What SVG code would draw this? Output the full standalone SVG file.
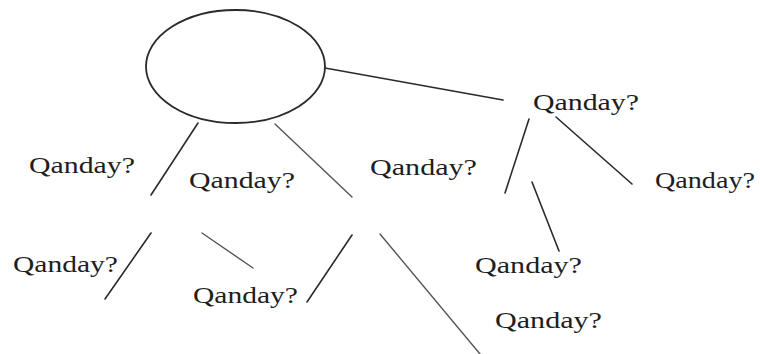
<svg xmlns="http://www.w3.org/2000/svg" width="760" height="354" viewBox="0 0 760 354">
<style>
.lbl{font-family:"Liberation Serif","Times New Roman",serif;font-size:23px;fill:#1e1e1e}
.ln{stroke:#2a2a2a;stroke-width:1.6;fill:none;stroke-linecap:round}
.lt{stroke:#555;stroke-width:1.4;fill:none;stroke-linecap:round}
</style>
<rect width="760" height="354" fill="#ffffff"/>
<g id="connectors">
<line class="ln" x1="325" y1="68" x2="503" y2="100"/>
<line class="ln" x1="198" y1="123" x2="151" y2="195"/>
<line class="lt" x1="275" y1="124" x2="352" y2="197"/>
<line class="ln" x1="529" y1="119" x2="505" y2="193"/>
<line class="ln" x1="556" y1="117" x2="632" y2="184"/>
<line class="ln" x1="532" y1="182" x2="559" y2="251"/>
<line class="ln" x1="151" y1="233" x2="105" y2="299"/>
<line class="lt" x1="202" y1="233" x2="253" y2="268"/>
<line class="ln" x1="352" y1="235" x2="307" y2="302"/>
<line class="lt" x1="380" y1="234" x2="480" y2="354"/>
</g>
<g id="root"><ellipse cx="235.5" cy="66.5" rx="89.5" ry="56.5" fill="none" stroke="#2a2a2a" stroke-width="1.8"/></g>
<g id="n1"><text class="lbl" x="533" y="110" textLength="106" lengthAdjust="spacingAndGlyphs">Qanday?</text></g>
<g id="n2"><text class="lbl" x="29" y="173" textLength="106" lengthAdjust="spacingAndGlyphs">Qanday?</text></g>
<g id="n3"><text class="lbl" x="189" y="188" textLength="106" lengthAdjust="spacingAndGlyphs">Qanday?</text></g>
<g id="n4"><text class="lbl" x="370" y="175" textLength="107" lengthAdjust="spacingAndGlyphs">Qanday?</text></g>
<g id="n5"><text class="lbl" x="655" y="188" textLength="100" lengthAdjust="spacingAndGlyphs">Qanday?</text></g>
<g id="n6"><text class="lbl" x="13" y="272" textLength="105" lengthAdjust="spacingAndGlyphs">Qanday?</text></g>
<g id="n7"><text class="lbl" x="193" y="303" textLength="105" lengthAdjust="spacingAndGlyphs">Qanday?</text></g>
<g id="n8"><text class="lbl" x="475" y="273" textLength="107" lengthAdjust="spacingAndGlyphs">Qanday?</text></g>
<g id="n9"><text class="lbl" x="495" y="328" textLength="107" lengthAdjust="spacingAndGlyphs">Qanday?</text></g>
</svg>
